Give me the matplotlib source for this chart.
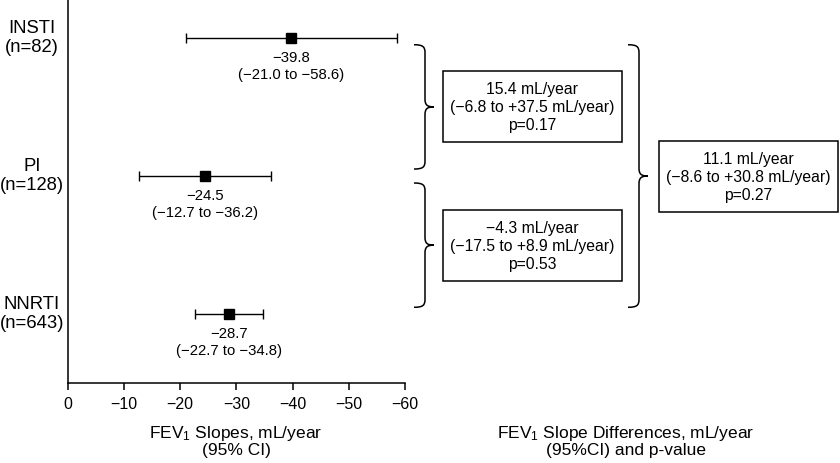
import matplotlib
matplotlib.use('Agg')
import matplotlib.pyplot as plt
from matplotlib.path import Path
from matplotlib.patches import PathPatch, Rectangle
import numpy as np

plt.rcParams['font.family'] = ['Liberation Sans', 'DejaVu Sans']
plt.rcParams['mathtext.default'] = 'regular'

# data
groups = ['INSTI', 'PI', 'NNRTI']
n_pts = [82, 128, 643]
slope = [-39.8, -24.5, -28.7]
ci_lo = [-21.0, -12.7, -22.7]
ci_hi = [-58.6, -36.2, -34.8]

# pairwise differences (group i vs group j)
pairs = [(0, 1), (1, 2), (0, 2)]
diff = [15.4, -4.3, 11.1]
diff_lo = [-6.8, -17.5, -8.6]
diff_hi = [37.5, 8.9, 30.8]
pval = [0.17, 0.53, 0.27]

xticks = [0, -10, -20, -30, -40, -50, -60]

W, H = 840, 463
fig = plt.figure(figsize=(W / 100, H / 100), dpi=100)

# left forest plot
ax = fig.add_axes([67.7 / W, 80 / H, 337.3 / W, 383 / H])
ypos = np.array([3, 2, 1])
est = np.array(slope)
lo = np.minimum(ci_lo, ci_hi)
hi = np.maximum(ci_lo, ci_hi)
ax.errorbar(est, ypos, xerr=[est - lo, hi - est], fmt='s', color='k',
            ms=7, lw=1, capsize=3.8, capthick=1)

for i, g in enumerate(groups):
    ax.annotate('\u2212%.1f' % abs(slope[i]), (est[i], ypos[i]), xytext=(0, -14.5),
                textcoords='offset points', ha='center', va='center', fontsize=10.7)
    ax.annotate('(\u2212%.1f to \u2212%.1f)' % (abs(ci_lo[i]), abs(ci_hi[i])),
                (est[i], ypos[i]), xytext=(0, -26.5), textcoords='offset points',
                ha='center', va='center', fontsize=10.7)
    ax.text(-0.106, ypos[i], '%s\n(n=%d)' % (g, n_pts[i]), transform=ax.get_yaxis_transform(),
            ha='center', va='center', fontsize=13.3, linespacing=1.15)

ax.set_xlim(0, -60)
ax.set_ylim(0.503, 3.273)
ax.set_xticks(xticks)
ax.set_yticks([])
ax.spines['top'].set_visible(False)
ax.spines['right'].set_visible(False)
ax.spines['left'].set_linewidth(1.1)
ax.spines['bottom'].set_linewidth(1.1)
ax.tick_params(axis='x', length=5, width=1.1, labelsize=11.5, pad=5)

# overlay in pixel coordinates for braces, boxes and labels
ov = fig.add_axes([0, 0, 1, 1], zorder=5)
ov.set_xlim(0, W)
ov.set_ylim(H, 0)
ov.axis('off')


def to_px(y):
    p = ax.transData.transform((0, y))
    return ov.transData.inverted().transform(p)[1]


def brace(xv, ytop, ybot, ymid, hook=11, tip=9, r=8):
    verts = [(xv - hook, ytop), (xv - 2, ytop), (xv, ytop + 2), (xv, ytop + r),
             (xv, ymid - r), (xv, ymid - 2), (xv + 2, ymid), (xv + tip, ymid),
             (xv + 2, ymid), (xv, ymid + 2), (xv, ymid + r),
             (xv, ybot - r), (xv, ybot - 2), (xv - 2, ybot), (xv - hook, ybot)]
    codes = [Path.MOVETO, Path.CURVE4, Path.CURVE4, Path.CURVE4,
             Path.LINETO, Path.CURVE4, Path.CURVE4, Path.CURVE4,
             Path.CURVE4, Path.CURVE4, Path.CURVE4,
             Path.LINETO, Path.CURVE4, Path.CURVE4, Path.CURVE4]
    ov.add_patch(PathPatch(Path(verts, codes), fc='none', ec='k', lw=1.1))


brace_x = [425, 425, 639]
box_x = [443, 443, 659]
box_w, box_h = 179, 71

for k, (i, j) in enumerate(pairs):
    ytop = to_px(ypos[i]) + 7
    ybot = to_px(ypos[j]) - 7
    ymid = (ytop + ybot) / 2
    brace(brace_x[k], ytop, ybot, ymid)
    ov.add_patch(Rectangle((box_x[k], ymid - box_h / 2), box_w, box_h,
                           fc='white', ec='k', lw=1.1))
    d = ('%.1f' % diff[k]).replace('-', '\u2212')
    lo_s = ('%.1f' % diff_lo[k]).replace('-', '\u2212')
    hi_s = ('%+.1f' % diff_hi[k]).replace('-', '\u2212')
    txt = '%s mL/year\n(%s to %s mL/year)\np=%.2f' % (d, lo_s, hi_s, pval[k])
    ov.text(box_x[k] + box_w / 2, ymid + 1, txt, ha='center', va='center',
            fontsize=11.3, linespacing=1.25)

ov.text(236, 441, 'FEV$_1$ Slopes, mL/year\n(95% CI)', ha='center', va='center',
        fontsize=12.5, linespacing=1.05)
ov.text(626, 441, 'FEV$_1$ Slope Differences, mL/year\n(95%CI) and p-value',
        ha='center', va='center', fontsize=12.5, linespacing=1.05)

fig.savefig('out.png', dpi=100)
